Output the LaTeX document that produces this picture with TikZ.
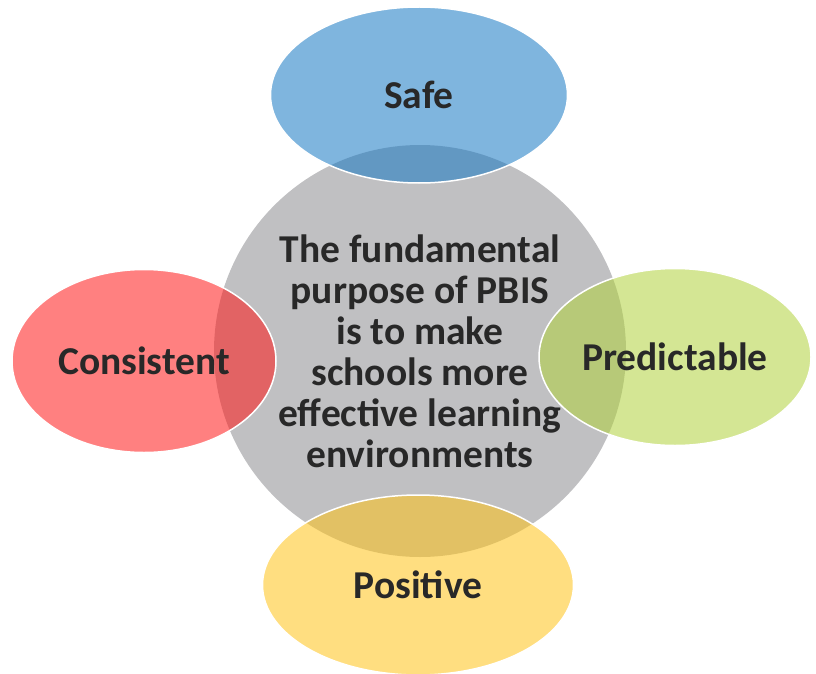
\documentclass[tikz,border=0pt]{standalone}
\usepackage{fontspec}
\setmainfont{Carlito}
\usetikzlibrary{shapes.geometric}

\definecolor{hubgray}{RGB}{192,192,194}
\definecolor{textgray}{RGB}{40,40,40}
\definecolor{safeblue}{RGB}{22,120,195}
\definecolor{consred}{RGB}{255,24,24}
\definecolor{predgreen}{RGB}{177,210,60}
\definecolor{posyellow}{RGB}{255,195,24}

\begin{document}
\begin{tikzpicture}[x=1pt,y=-1pt,
  bigtext/.style={font=\fontsize{39.5}{41}\selectfont\bfseries,text=textgray},
  petal/.style={ellipse,bigtext,draw=white,line width=1.5pt,fill opacity=0.55,text opacity=1,inner sep=0pt}]

\useasboundingbox (0,0) rectangle (816,674);

% centre circle
\node[circle,fill=hubgray,minimum size=412pt,inner sep=0pt,bigtext,align=center] (hub) at (420,351)
  {The fundamental\\purpose of PBIS\\is to make\\schools more\\effective learning\\environments};

% the four ellipses
\node[petal,fill=safeblue,minimum width=297pt,minimum height=176pt] (safe) at (419,95) {Safe};
\node[petal,fill=consred,minimum width=264pt,minimum height=183pt] (consistent) at (144,361) {Consistent};
\node[petal,fill=predgreen,minimum width=272pt,minimum height=177pt] (predictable) at (675,357) {Predictable};
\node[petal,fill=posyellow,minimum width=311pt,minimum height=180pt] (positive) at (418,585) {Positive};

\end{tikzpicture}
\end{document}
